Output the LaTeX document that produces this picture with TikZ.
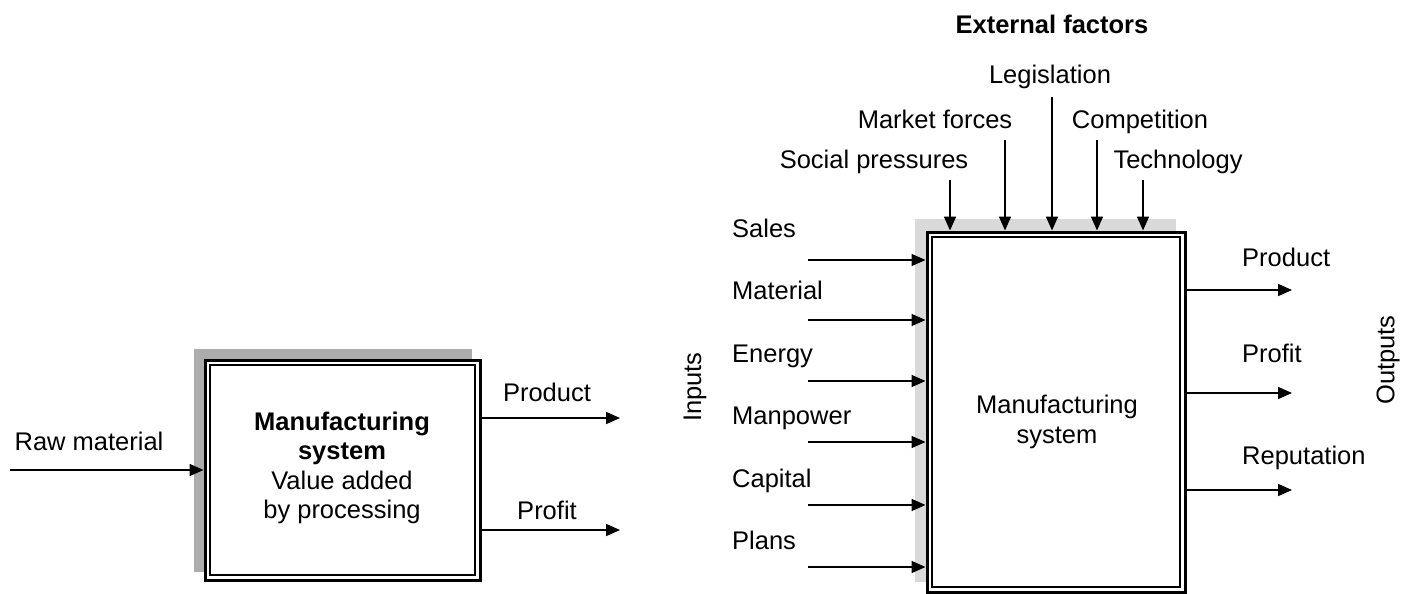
\documentclass[tikz,border=0pt]{standalone}
\usepackage{fontspec}
\setmainfont{Liberation Sans}
\usetikzlibrary{arrows.meta,positioning,backgrounds}

\tikzset{
	sysbox/.style={draw,line width=3pt,fill=white,rectangle,inner sep=0pt},
	flow/.style={-{Triangle[length=14pt,width=12pt]},line width=1.6pt},
	lbl/.style={inner sep=0pt,anchor=base},
	lblw/.style={inner sep=0pt,anchor=base west}
}

\begin{document}
\begin{tikzpicture}[x=1pt,y=-1pt,font=\fontsize{25.5}{29.5}\selectfont]
	\useasboundingbox (0,0) rectangle (1413,594);

	% simple system
	\node[sysbox,minimum width=275pt,minimum height=220pt] (simple) at (342.5,470) {};
	\draw[line width=1.4pt] ([shift={(6.5pt,-6.5pt)}]simple.north west) rectangle ([shift={(-6.5pt,6.5pt)}]simple.south east);
	\node[align=center] (simpletxt) at (342,468) {\textbf{Manufacturing}\\\textbf{system}\\Value added\\by processing};

	\coordinate (raw) at (10,470);
	\coordinate (lprod) at (620,418);
	\coordinate (lprof) at (620,530);
	\node[lbl] (rawlbl) at (89,450) {Raw material};
	\node[lbl] (lprodlbl) at (547,401) {Product};
	\node[lbl] (lproflbl) at (547,519) {Profit};

	\path[flow]
	(raw) edge (raw -| simple.west)
	(simple.east |- lprod) edge (lprod)
	(simple.east |- lprof) edge (lprof)
	;

	% full system with external factors
	\node[sysbox,minimum width=258pt,minimum height=360pt] (plant) at (1056,412) {};
	\draw[line width=1.4pt] ([shift={(6.5pt,-6.5pt)}]plant.north west) rectangle ([shift={(-6.5pt,6.5pt)}]plant.south east);
	\node[align=center] (planttxt) at (1057,422) {Manufacturing\\system};

	\begin{scope}[on background layer]
		\fill[gray!65] ([shift={(-10pt,10pt)}]simple.north west) rectangle ([shift={(-10pt,10pt)}]simple.south east);
		\fill[gray!30] ([shift={(-11pt,12pt)}]plant.north west) rectangle ([shift={(-11pt,12pt)}]plant.south east);
	\end{scope}

	\node[lbl] (extlbl) at (1052,34) {\textbf{External factors}};
	\node[lbl] (leglbl) at (1050,84) {Legislation};
	\node[lbl] (mflbl) at (935,128) {Market forces};
	\node[lbl] (complbl) at (1140,128) {Competition};
	\node[lbl] (splbl) at (874,168) {Social pressures};
	\node[lbl] (techlbl) at (1178,168) {Technology};

	\coordinate (sp) at (950,180);
	\coordinate (mf) at (1005,140);
	\coordinate (leg) at (1052,97);
	\coordinate (comp) at (1097,140);
	\coordinate (tech) at (1143,180);

	\path[flow]
	(sp) edge (sp |- plant.north)
	(mf) edge (mf |- plant.north)
	(leg) edge (leg |- plant.north)
	(comp) edge (comp |- plant.north)
	(tech) edge (tech |- plant.north)
	;

	% inputs
	\node[rotate=90] (inlbl) at (695,387) {Inputs};
	\node[lblw] (sales) at (732,237) {Sales};
	\node[lblw] (mat) at (732,299.5) {Material};
	\node[lblw] (energy) at (732,362) {Energy};
	\node[lblw] (man) at (732,424.5) {Manpower};
	\node[lblw] (cap) at (732,487) {Capital};
	\node[lblw] (plans) at (732,549.5) {Plans};

	\coordinate (in1) at (808,260);
	\coordinate (in2) at (808,320);
	\coordinate (in3) at (808,381);
	\coordinate (in4) at (808,442);
	\coordinate (in5) at (808,505);
	\coordinate (in6) at (808,567);

	\path[flow]
	(in1) edge (in1 -| plant.west)
	(in2) edge (in2 -| plant.west)
	(in3) edge (in3 -| plant.west)
	(in4) edge (in4 -| plant.west)
	(in5) edge (in5 -| plant.west)
	(in6) edge (in6 -| plant.west)
	;

	% outputs
	\node[rotate=90] (outlbl) at (1388,360) {Outputs};
	\node[lblw] (rprodlbl) at (1242,266) {Product};
	\node[lblw] (rproflbl) at (1242,362) {Profit};
	\node[lblw] (replbl) at (1242,464) {Reputation};

	\coordinate (out1) at (1292,290);
	\coordinate (out2) at (1292,393);
	\coordinate (out3) at (1292,490);

	\path[flow]
	(plant.east |- out1) edge (out1)
	(plant.east |- out2) edge (out2)
	(plant.east |- out3) edge (out3)
	;
\end{tikzpicture}
\end{document}
